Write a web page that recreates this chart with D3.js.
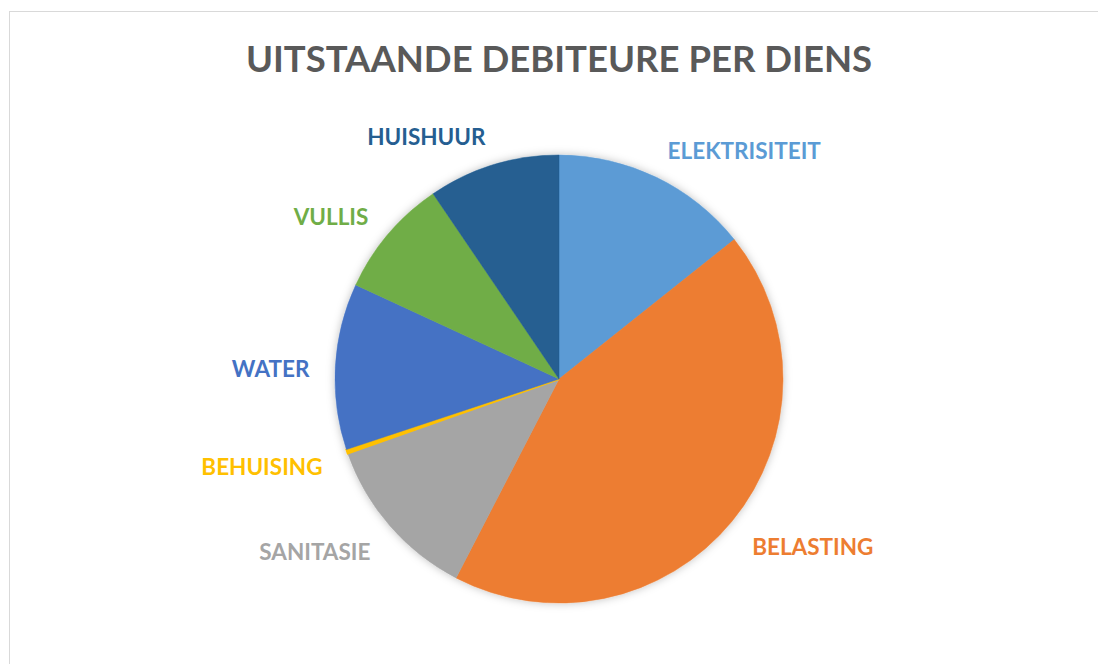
<!DOCTYPE html>
<html>
<head>
<meta charset="utf-8">
<script src="https://cdn.jsdelivr.net/npm/d3@7"></script>
<style>
  html, body { margin: 0; padding: 0; background: #fff; }
  svg { display: block; }
</style>
</head>
<body>
<script>
// data: share of outstanding debtors per service (%)
var categories = ["ELEKTRISITEIT", "BELASTING", "SANITASIE", "BEHUISING", "WATER", "VULLIS", "HUISHUUR"];
var values = [14.3, 43.3, 12.0, 0.3, 12.0, 8.6, 9.5];
var colors = ["#5B9BD5", "#ED7D31", "#A5A5A5", "#FFC000", "#4472C4", "#70AD47", "#255E91"];

var width = 1098, height = 664;
var cx = 559, cy = 379, radius = 224;

var svg = d3.select("body").append("svg")
    .attr("width", width)
    .attr("height", height);

// chart border
svg.append("rect")
    .attr("x", 9.5).attr("y", 11.5)
    .attr("width", width + 20).attr("height", height + 20)
    .attr("fill", "#fff")
    .attr("stroke", "#d9d9d9");

// soft shadow around the pie
var defs = svg.append("defs");
var f = defs.append("filter").attr("id", "shadow")
    .attr("x", "-10%").attr("y", "-10%").attr("width", "120%").attr("height", "120%");
f.append("feDropShadow")
    .attr("dx", 0).attr("dy", 0).attr("stdDeviation", 4)
    .attr("flood-color", "#000").attr("flood-opacity", 0.25);

// title
svg.append("text")
    .attr("x", cx).attr("y", 72)
    .attr("text-anchor", "middle")
    .style("font-family", "Lato, 'Open Sans', sans-serif")
    .style("font-weight", "bold")
    .style("font-size", "36.5px")
    .style("fill", "#595959")
    .text("UITSTAANDE DEBITEURE PER DIENS");

var pie = d3.pie().sort(null).value(function(d) { return d; });
var arcs = pie(values);

var arc = d3.arc().innerRadius(0).outerRadius(radius);
var labelArc = d3.arc().innerRadius(radius + 26).outerRadius(radius + 26);

var g = svg.append("g")
    .attr("transform", "translate(" + cx + "," + cy + ")");

g.append("g")
    .attr("filter", "url(#shadow)")
    .selectAll("path")
    .data(arcs)
    .enter().append("path")
    .attr("d", arc)
    .attr("fill", function(d, i) { return colors[i]; })
    .attr("stroke", function(d, i) { return colors[i]; })
    .attr("stroke-width", function(d, i) { return values[i] < 1 ? 2 : 0.5; });

// labels sit just outside the rim, a little stretched vertically
g.selectAll("text.lbl")
    .data(arcs)
    .enter().append("text")
    .attr("class", "lbl")
    .attr("transform", function(d) {
        var c = labelArc.centroid(d);
        return "translate(" + c[0] + "," + (c[1] * 1.03) + ")";
    })
    .attr("dy", "0.54em")
    .attr("text-anchor", function(d) {
        var mid = (d.startAngle + d.endAngle) / 2;
        return mid < Math.PI ? "start" : "end";
    })
    .style("font-family", "Lato, 'Open Sans', sans-serif")
    .style("font-weight", "bold")
    .style("font-size", "22.5px")
    .style("fill", function(d, i) { return colors[i]; })
    .text(function(d, i) { return categories[i]; });
</script>
</body>
</html>
